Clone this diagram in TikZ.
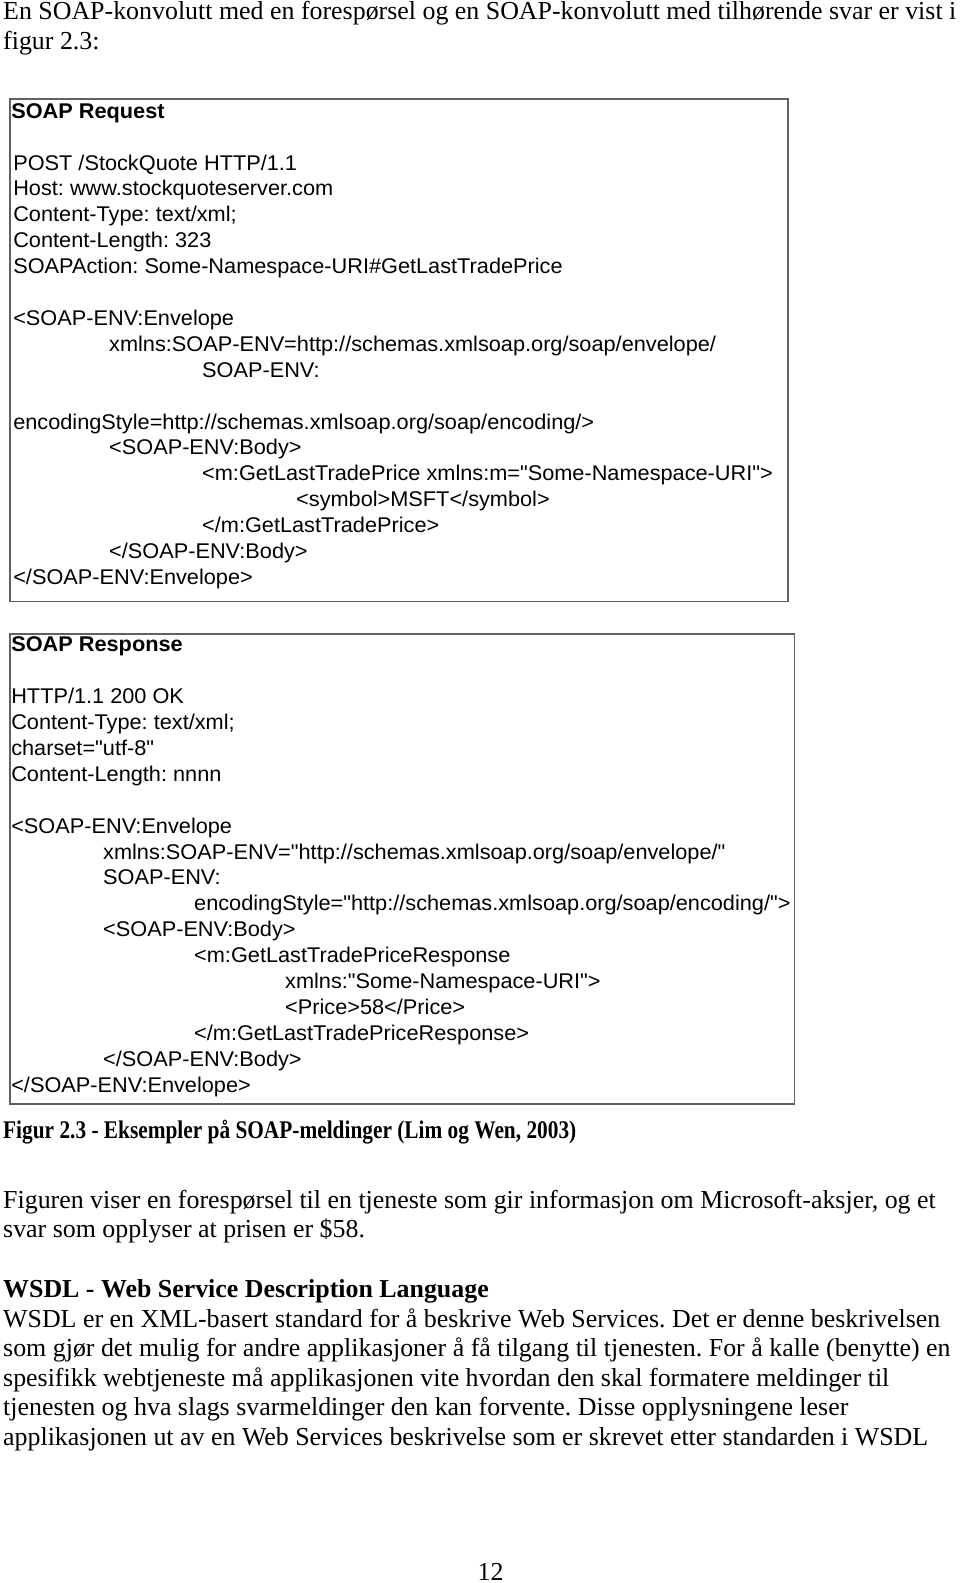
\documentclass[tikz,border=0pt]{standalone}
\usepackage{fontspec}
\setmainfont{Liberation Serif}
\newfontfamily\codefont[FakeStretch=1.02]{Liberation Sans}
\newfontfamily\capfont[FakeStretch=0.84]{Liberation Serif}
\frenchspacing
\tikzset{
  body/.style={anchor=base west, inner sep=0pt, font=\fontsize{25.9}{29.5}\selectfont},
  bodyb/.style={anchor=base west, inner sep=0pt, font=\fontsize{25.9}{29.5}\selectfont\bfseries},
  capb/.style={anchor=base west, inner sep=0pt, font=\capfont\fontsize{25.4}{29.5}\selectfont\bfseries},
  code/.style={anchor=base west, inner sep=0pt, font=\codefont\fontsize{21.3}{25.9}\selectfont},
  codeb/.style={anchor=base west, inner sep=0pt, font=\codefont\fontsize{21.3}{25.9}\selectfont\bfseries},
  panel/.style={draw=black!62, line width=1.6pt, fill=white, anchor=north west, inner sep=0pt}
}
\begin{document}
\begin{tikzpicture}[x=1pt,y=-1pt]
\useasboundingbox (0,0) rectangle (960,1583);
% intro
\node[body] (t1) at (3,19.5) {En SOAP-konvolutt med en forespørsel og en SOAP-konvolutt med tilhørende svar er vist i};
\node[body] (t2) at (3,49) {figur 2.3:};
% request panel
\node[panel, minimum width=778.3pt, minimum height=502.7pt] (req) at (9.1,97.9) {};
\node[codeb] (r0) at (11.1,118.2) {SOAP Request};
\node[code] (r1) at (13.1,170) {POST /StockQuote HTTP/1.1};
\node[code] (r2) at (13.1,195.9) {Host: www.stockquoteserver.com};
\node[code] (r3) at (13.1,221.8) {Content-Type: text/xml;};
\node[code] (r4) at (13.1,247.7) {Content-Length: 323};
\node[code] (r5) at (13.1,273.6) {SOAPAction: Some-Namespace-URI\#GetLastTradePrice};
\node[code] (r6) at (13.1,325.4) {<SOAP-ENV:Envelope};
\node[code] (r7) at (109,351.3) {xmlns:SOAP-ENV=http://schemas.xmlsoap.org/soap/envelope/};
\node[code] (r8) at (202,377.2) {SOAP-ENV:};
\node[code] (r9) at (13.1,429) {encodingStyle=http://schemas.xmlsoap.org/soap/encoding/>};
\node[code] (r10) at (109,454.9) {<SOAP-ENV:Body>};
\node[code] (r11) at (202,480.8) {<m:GetLastTradePrice xmlns:m="Some-Namespace-URI">};
\node[code] (r12) at (296,506.7) {<symbol>MSFT</symbol>};
\node[code] (r13) at (202,532.6) {</m:GetLastTradePrice>};
\node[code] (r14) at (109,558.5) {</SOAP-ENV:Body>};
\node[code] (r15) at (13.1,584.4) {</SOAP-ENV:Envelope>};
% response panel
\node[panel, minimum width=784.4pt, minimum height=470.4pt] (resp) at (9.1,633) {};
\node[codeb] (s0) at (11.1,651.8) {SOAP Response};
\node[code] (s1) at (11.1,703.6) {HTTP/1.1 200 OK};
\node[code] (s2) at (11.1,729.5) {Content-Type: text/xml;};
\node[code] (s3) at (11.1,755.4) {charset="utf-8"};
\node[code] (s4) at (11.1,781.3) {Content-Length: nnnn};
\node[code] (s5) at (11.1,833.1) {<SOAP-ENV:Envelope};
\node[code] (s6) at (103,859) {xmlns:SOAP-ENV="http://schemas.xmlsoap.org/soap/envelope/"};
\node[code] (s7) at (103,884.9) {SOAP-ENV:};
\node[code] (s8) at (194,910.8) {encodingStyle="http://schemas.xmlsoap.org/soap/encoding/">};
\node[code] (s9) at (103,936.7) {<SOAP-ENV:Body>};
\node[code] (s10) at (194,962.6) {<m:GetLastTradePriceResponse};
\node[code] (s11) at (285,988.5) {xmlns:"Some-Namespace-URI">};
\node[code] (s12) at (285,1014.4) {<Price>58</Price>};
\node[code] (s13) at (194,1040.3) {</m:GetLastTradePriceResponse>};
\node[code] (s14) at (103,1066.2) {</SOAP-ENV:Body>};
\node[code] (s15) at (11.1,1092.1) {</SOAP-ENV:Envelope>};
% caption and text
\node[capb] (cap) at (3,1138) {Figur 2.3 - Eksempler på SOAP-meldinger (Lim og Wen, 2003)};
\node[body] (p1) at (3,1208) {Figuren viser en forespørsel til en tjeneste som gir informasjon om Microsoft-aksjer, og et};
\node[body] (p2) at (3,1237.5) {svar som opplyser at prisen er \$58.};
\node[bodyb] (h) at (3,1297.5) {WSDL - Web Service Description Language};
\node[body] (w1) at (3,1327) {WSDL er en XML-basert standard for å beskrive Web Services. Det er denne beskrivelsen};
\node[body] (w2) at (3,1356.5) {som gjør det mulig for andre applikasjoner å få tilgang til tjenesten. For å kalle (benytte) en};
\node[body] (w3) at (3,1386) {spesifikk webtjeneste må applikasjonen vite hvordan den skal formatere meldinger til};
\node[body] (w4) at (3,1415.5) {tjenesten og hva slags svarmeldinger den kan forvente. Disse opplysningene leser};
\node[body] (w5) at (3,1445) {applikasjonen ut av en Web Services beskrivelse som er skrevet etter standarden i WSDL};
\node[body, anchor=base] (pg) at (490.6,1580) {12};
\end{tikzpicture}
\end{document}
